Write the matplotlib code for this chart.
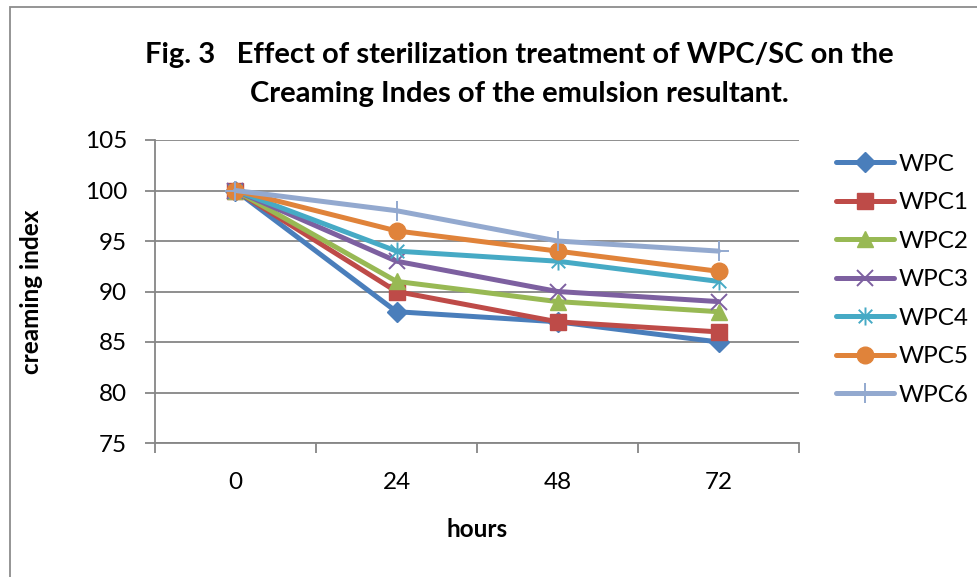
import matplotlib
matplotlib.use("Agg")
import matplotlib.pyplot as plt
import numpy as np
from matplotlib.path import Path
from matplotlib.patches import Rectangle

plt.rcParams["font.family"] = ["Lato", "DejaVu Sans"]

# ── data ────────────────────────────────────────────────────────────────────
hours = ["0", "24", "48", "72"]
series_names = ["WPC", "WPC1", "WPC2", "WPC3", "WPC4", "WPC5", "WPC6"]
wpc = [100, 88, 87, 85]
wpc1 = [100, 90, 87, 86]
wpc2 = [100, 91, 89, 88]
wpc3 = [100, 93, 90, 89]
wpc4 = [100, 94, 93, 91]
wpc5 = [100, 96, 94, 92]
wpc6 = [100, 98, 95, 94]
y_ticks = [75, 80, 85, 90, 95, 100, 105]

# excel-ish asterisk: vertical bar + X
star = Path(
    [(0, -1), (0, 1), (-0.75, -0.75), (0.75, 0.75), (-0.75, 0.75), (0.75, -0.75)],
    [Path.MOVETO, Path.LINETO] * 3,
)

styles = [
    dict(color="#4A7EBB", marker="D", ms=10),
    dict(color="#BE4B48", marker="s", ms=11),
    dict(color="#98B954", marker="^", ms=12),
    dict(color="#7D60A0", marker="x", ms=11, mew=1.4),
    dict(color="#46AAC5", marker=star, ms=13, mew=1.4),
    dict(color="#E0833A", marker="o", ms=12),
    dict(color="#93A9CF", marker="+", ms=15, mew=1.4),
]

W, H = 978, 577
fig = plt.figure(figsize=(W / 100, H / 100), dpi=100)
ax = fig.add_axes([155 / W, 1 - 443 / H, (799 - 155) / W, (443 - 140) / H])

x = np.arange(len(hours))
all_vals = [wpc, wpc1, wpc2, wpc3, wpc4, wpc5, wpc6]
for name, vals, st in zip(series_names, all_vals, styles):
    ax.plot(x, vals, lw=3.6, label=name, solid_capstyle="round", **st)

ax.set_xlim(-0.5, len(hours) - 0.5)
ax.set_ylim(75, 105)
ax.set_yticks(y_ticks)
ax.yaxis.grid(True, color="#868686", lw=1.3)
ax.set_axisbelow(True)

# category boundaries as major ticks, labels on minor ticks at centres
ax.set_xticks(np.arange(len(hours) + 1) - 0.5)
ax.set_xticklabels([])
ax.set_xticks(x, minor=True)
ax.set_xticklabels(hours, minor=True)
ax.tick_params(axis="x", which="major", length=7, width=1.3, color="#868686")
ax.tick_params(axis="x", which="minor", length=0, pad=21, labelsize=17.5)
ax.tick_params(axis="y", length=7, width=1.3, color="#868686", pad=13, labelsize=17.5)

for s in ("top", "right"):
    ax.spines[s].set_visible(False)
for s in ("left", "bottom"):
    ax.spines[s].set_color("#868686")
    ax.spines[s].set_linewidth(1.3)

ax.set_xlabel("hours", fontsize=17.5, fontweight="bold", labelpad=18)
ax.set_ylabel("creaming index", fontsize=17.5, fontweight="bold", labelpad=30)

fig.text(519 / W, 1 - 55 / H,
         "Fig. 3   Effect of sterilization treatment of WPC/SC on the",
         ha="center", va="center", fontsize=21, fontweight="bold")
fig.text(519 / W, 1 - 94 / H,
         "Creaming Indes of the emulsion resultant.",
         ha="center", va="center", fontsize=21, fontweight="bold")

ax.legend(loc="upper left", bbox_to_anchor=(826 / W, 1 - 144 / H),
          bbox_transform=fig.transFigure, frameon=False, fontsize=17.5,
          handlelength=2.4, handletextpad=0.2, labelspacing=0.72,
          borderaxespad=0)

# chart border (only top/left visible in the crop)
fig.add_artist(Rectangle((10 / W, -0.1), 1.2, 1.1 - 7 / H,
                         transform=fig.transFigure, fill=False,
                         edgecolor="#8C8C8C", lw=1.3))

fig.savefig("out.png", dpi=100)
